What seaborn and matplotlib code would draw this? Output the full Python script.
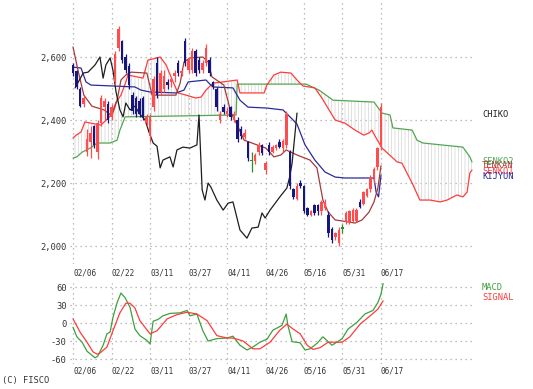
import numpy as np
import matplotlib
matplotlib.use("Agg")
import matplotlib.pyplot as plt
import seaborn as sns

# x positions are trading-day indices: 0 = 02/06 ... 88 = 06/17, cloud runs 26 days ahead
date_ticks = [0, 11, 22, 33, 44, 55, 66, 77, 88]
date_labels = ["02/06", "02/22", "03/11", "03/27", "04/11", "04/26", "05/16", "05/31", "06/17"]

opens = [2575, 2555, 2500, 2450, 2300, 2330, 2380, 2300, 2390, 2440,
         2450, 2410, 2520, 2630, 2650, 2600, 2570, 2480, 2470, 2460,
         2470, 2390, 2350, 2440, 2580, 2490, 2500, 2520, 2520, 2540,
         2580, 2550, 2650, 2560, 2560, 2620, 2590, 2560, 2580, 2590,
         2520, 2500, 2400, 2440, 2420, 2440, 2400, 2400, 2370, 2345,
         2330, 2270, 2270, 2300, 2320, 2240, 2320, 2300, 2310, 2330,
         2310, 2320, 2300, 2180, 2150, 2200, 2190, 2120, 2100, 2130,
         2130, 2110, 2120, 2100, 2055, 2030, 2010, 2055, 2075, 2075,
         2080, 2080, 2140, 2135, 2160, 2180, 2215, 2250, 2315]
highs = [2580, 2560, 2505, 2475, 2370, 2380, 2385, 2400, 2480, 2470,
         2460, 2450, 2620, 2700, 2655, 2610, 2580, 2490, 2475, 2470,
         2475, 2420, 2420, 2540, 2600, 2560, 2560, 2530, 2535, 2560,
         2590, 2560, 2660, 2600, 2630, 2625, 2600, 2590, 2640, 2600,
         2525, 2505, 2430, 2450, 2440, 2445, 2430, 2410, 2380, 2370,
         2335, 2300, 2295, 2330, 2325, 2270, 2330, 2320, 2325, 2340,
         2340, 2430, 2305, 2185, 2200, 2210, 2195, 2125, 2115, 2135,
         2135, 2145, 2150, 2110, 2060, 2045, 2060, 2070, 2110, 2115,
         2120, 2120, 2150, 2175, 2185, 2225, 2250, 2315, 2455]
lows = [2540, 2500, 2440, 2440, 2285, 2280, 2310, 2275, 2380, 2400,
        2390, 2400, 2510, 2620, 2580, 2550, 2500, 2420, 2410, 2410,
        2400, 2380, 2330, 2430, 2470, 2480, 2490, 2500, 2505, 2520,
        2540, 2540, 2570, 2550, 2550, 2540, 2550, 2550, 2570, 2540,
        2500, 2430, 2390, 2420, 2410, 2400, 2395, 2330, 2340, 2340,
        2270, 2235, 2260, 2290, 2290, 2230, 2290, 2295, 2305, 2310,
        2300, 2310, 2180, 2150, 2145, 2185, 2105, 2095, 2095, 2100,
        2100, 2100, 2115, 2030, 2010, 2020, 2000, 2040, 2070, 2070,
        2075, 2075, 2120, 2130, 2155, 2170, 2200, 2240, 2305]
closes = [2549, 2505, 2445, 2470, 2340, 2360, 2320, 2390, 2470, 2460,
          2400, 2440, 2610, 2690, 2590, 2560, 2510, 2430, 2420, 2420,
          2410, 2410, 2410, 2530, 2480, 2550, 2540, 2510, 2530, 2550,
          2550, 2555, 2580, 2590, 2620, 2550, 2560, 2580, 2630, 2550,
          2505, 2440, 2420, 2425, 2430, 2410, 2420, 2340, 2350, 2360,
          2280, 2270, 2290, 2320, 2295, 2265, 2300, 2315, 2320, 2315,
          2335, 2420, 2190, 2155, 2190, 2190, 2110, 2100, 2110, 2105,
          2110, 2140, 2140, 2040, 2020, 2040, 2050, 2055, 2105, 2110,
          2115, 2115, 2125, 2170, 2180, 2215, 2245, 2310, 2440]

tenkan_x = [0, 1.4, 3.1, 5.4, 8.9, 11.1, 12.6, 13.7, 15.1, 16.6, 21.1, 22.6, 24.3, 29.4,
            30.6, 31.7, 33.4, 37.1, 38.6, 39.7, 43.1, 45.1, 46.9, 48.9, 52.6, 55.1, 57.4,
            59.4, 60.9, 64, 67.7, 69.7, 71.4, 72.9, 74.9, 80.6, 82.6, 84.6, 86, 87.1, 88]
tenkan_y = [2632, 2559, 2479, 2444, 2432, 2413, 2463, 2527, 2543, 2552, 2549, 2479, 2479, 2479,
            2517, 2584, 2597, 2600, 2584, 2537, 2511, 2425, 2384, 2336, 2321, 2311, 2283,
            2289, 2305, 2289, 2273, 2248, 2146, 2108, 2083, 2073, 2083, 2108, 2140, 2184, 2255]

kijun_x = [0, 2.3, 3.7, 5.1, 17.7, 19.4, 22, 29.4, 31.7, 32.9, 38, 39.1, 40, 45.7, 47.7, 50,
           55.4, 60, 62.9, 64, 66.3, 69.1, 72, 74.9, 77.7, 86, 86.6, 87.3, 88]
kijun_y = [2568, 2565, 2521, 2511, 2505, 2495, 2489, 2486, 2495, 2521, 2527, 2514, 2505, 2502,
           2463, 2441, 2438, 2432, 2400, 2387, 2321, 2273, 2235, 2219, 2216, 2216, 2171, 2156,
           2225]

senkou1_x = [0, 0.9, 2.3, 3.4, 5.1, 8, 10, 10.9, 12.3, 13.7, 15.1, 15.7, 20, 21.4, 24.9, 26.6,
             28.6, 30, 32.3, 35.1, 36.6, 38, 40, 46.9, 47.7, 54.6, 55.4, 57.4, 59.4, 62.3, 64,
             65.7, 69.1, 71.1, 74.9, 77.7, 80.6, 83.1, 84.6, 85.4, 86.3, 88.3, 92.6, 94, 95.4,
             96.9, 99.1, 102, 104.9, 106.9, 109.7, 111.4, 112.6, 113.4, 114]
senkou1_y = [2343, 2352, 2362, 2394, 2390, 2384, 2406, 2416, 2457, 2479, 2521, 2543, 2533, 2590,
             2600, 2575, 2521, 2486, 2479, 2470, 2473, 2495, 2517, 2527, 2486, 2486, 2511, 2543,
             2552, 2549, 2527, 2508, 2502, 2470, 2400, 2390, 2368, 2352, 2359, 2368, 2349, 2311,
             2267, 2263, 2232, 2200, 2146, 2146, 2140, 2146, 2162, 2156, 2171, 2232, 2241]

senkou2_x = [0, 1.1, 2.6, 4.9, 6.9, 10.6, 12.6, 13.4, 14.9, 46.6, 46.9, 66.6, 70.3, 74.3, 86,
             88.3, 90.6, 91.4, 96.9, 98.3, 100, 111.4, 113.4, 114]
senkou2_y = [2279, 2283, 2298, 2311, 2327, 2327, 2336, 2368, 2410, 2416, 2514, 2514, 2495, 2463,
             2457, 2422, 2416, 2375, 2368, 2336, 2327, 2314, 2283, 2267]

chiko_x = [0.6, 2.9, 4.3, 6.3, 7.7, 8.6, 9.4, 10.6, 11.4, 12.3, 13.4, 14.3, 15.1, 16.3, 17.7,
           19.1, 20.6, 21.7, 22.9, 24, 24.9, 25.7, 27.7, 28.6, 29.7, 31.4, 33.4, 35.4, 36, 36.9,
           37.7, 38.6, 39.4, 41.1, 42.9, 44.3, 45.7, 46.3, 47.7, 49.7, 51.1, 52.9, 54, 54.9,
           56.3, 59.1, 61.1, 61.9, 62.6, 64]
chiko_y = [2502, 2549, 2552, 2575, 2600, 2533, 2575, 2597, 2559, 2489, 2432, 2410, 2454, 2432,
           2444, 2419, 2400, 2362, 2327, 2317, 2248, 2273, 2283, 2251, 2305, 2314, 2311, 2321,
           2416, 2178, 2146, 2200, 2187, 2146, 2114, 2136, 2140, 2114, 2051, 2025, 2057, 2060,
           2105, 2089, 2114, 2156, 2184, 2219, 2263, 2422]

macd_x = [0, 1.1, 2.6, 4, 6.3, 7.1, 8.6, 9.7, 10.6, 11.4, 12.6, 13.7, 14.9, 16.3, 17.7, 19.1,
          21.1, 22, 22.9, 24.3, 25.7, 27.7, 30.6, 32.6, 33.4, 35.4, 37.1, 38.6, 41.1, 44, 45.7,
          47.7, 49.7, 51.4, 53.4, 55.4, 57.1, 59.7, 60.9, 61.4, 62.6, 64.9, 66.3, 67.7, 69.7,
          71.4, 74, 75.4, 76.9, 78.6, 81.1, 83.4, 85.7, 87.1, 88, 88.6]
macd_y = [-7, -23, -32, -47, -58, -55, -37, -18, -15, 9, 34, 50, 42, 26, -10, -21,
          -29, -35, 3, 6, 12, 16, 17, 21, 12, 15, -13, -30, -26, -25, -22,
          -37, -45, -40, -32, -27, -12, -4, 15, -4, -31, -33, -45, -43, -34,
          -23, -37, -32, -26, -10, 1, 15, 21, 34, 48, 66]
signal_x = [0, 2, 4, 5.7, 6.9, 7.7, 9.7, 11.4, 13.4, 15.1, 16.3, 17.7, 19.1, 22, 24, 26.9,
            29.7, 32.6, 35.4, 38.3, 41.1, 44, 45.7, 48.6, 51.4, 53.4, 56.3, 59.1, 61.1, 62.9,
            64.9, 66.9, 68.6, 70.6, 72.9, 76.9, 79.1, 82, 84.9, 87.1, 88.6]
signal_y = [7, -15, -32, -48, -52, -50, -40, -13, 17, 33, 33, 25, 4, -18, -13, 7,
            14, 18, 15, 4, -21, -25, -25, -30, -43, -43, -32, -12, -2, -10,
            -18, -37, -44, -41, -32, -32, -23, -2, 12, 23, 37]

price_ticks = [2000, 2200, 2400, 2600]
macd_ticks = [60, 30, 0, -30, -60]

sns.set_style("white")
plt.rcParams["font.family"] = ["DejaVu Sans Mono"]
plt.rcParams["hatch.linewidth"] = 0.5

W, H = 533, 389
fig = plt.figure(figsize=(W / 100, H / 100), dpi=100)
ax = fig.add_axes([70 / W, 1 - 264 / H, 405 / W, 264 / H])
ax2 = fig.add_axes([70 / W, 1 - 364 / H, 405 / W, 81 / H])

grid_kw = dict(color="#a8a8a8", linestyle=(0, (1, 3)), linewidth=0.9)
txt = "#333333"

# cloud (hatched band between the two leading spans)
poly_x = senkou1_x + senkou2_x[::-1]
poly_y = senkou1_y + senkou2_y[::-1]
ax.fill(poly_x, poly_y, facecolor="none", edgecolor="#d2d2d2", hatch="|||||",
        linewidth=0, zorder=1)

lines = [(senkou2_x, senkou2_y, "#4fa84f"), (senkou1_x, senkou1_y, "#ff3b3b"),
         (kijun_x, kijun_y, "#2a2a9c"), (tenkan_x, tenkan_y, "#a43a3a"),
         (chiko_x, chiko_y, "#1e1e1e")]
for xs, ys, col in lines:
    sns.lineplot(x=xs, y=ys, ax=ax, color=col, linewidth=0.9, estimator=None,
                 sort=False, legend=False, zorder=3)

# candles
idx = np.arange(len(closes))
o, h, l, c = map(np.array, (opens, highs, lows, closes))
cols = np.where(c > o, "#ff4d4d", np.where(c < o, "#16167e", "#2e8b2e"))
ax.vlines(idx, l, h, colors=cols, linewidth=0.9, zorder=4)
body = np.where(np.abs(c - o) < 4, 4, c - o)
ax.bar(idx, body, bottom=o, width=0.8, color=cols, linewidth=0, zorder=5)

ax.set_xlim(-0.86, 114.86)
ax.set_ylim(1943, 2781)
ax.set_yticks(price_ticks)
ax.set_yticklabels([f"{v:,}" for v in price_ticks])
ax.set_xticks(date_ticks)
ax.set_xticklabels(date_labels)

sns.lineplot(x=macd_x, y=macd_y, ax=ax2, color="#3f9f3f", linewidth=0.9,
             estimator=None, sort=False, legend=False)
sns.lineplot(x=signal_x, y=signal_y, ax=ax2, color="#ff3b3b", linewidth=0.9,
             estimator=None, sort=False, legend=False)
ax2.set_xlim(-0.86, 114.86)
ax2.set_ylim(-68.3, 66.7)
ax2.set_yticks(macd_ticks)
ax2.set_yticklabels([str(v) for v in macd_ticks])
ax2.set_xticks(date_ticks)
ax2.set_xticklabels(date_labels)

for a, pad in ((ax, 3.0), (ax2, 1.5)):
    a.grid(True, **grid_kw)
    a.set_axisbelow(True)
    for s in a.spines.values():
        s.set_visible(False)
    a.tick_params(length=0, labelsize=6.3, labelcolor=txt)
    a.tick_params(axis="x", pad=pad, labelsize=5.6)
    a.tick_params(axis="y", pad=2.5)
    for t in a.get_xticklabels():
        t.set_ha("left")
    a.set_xlabel("")
    a.set_ylabel("")

# right-hand series names sit at the end values, overlapping as in the source
labels = [("CHIKO", 115, "#1e1e1e"), ("SENKO2", 162, "#4fa84f"), ("TENKAN", 166, "#a43a3a"),
          ("SENKO1", 171, "#ff3b3b"), ("KIJYUN", 177, "#2a2a9c"),
          ("MACD", 287, "#3f9f3f"), ("SIGNAL", 297, "#ff3b3b")]
for name, ypx, col in labels:
    fig.text(482 / W, 1 - ypx / H, name, color=col, fontsize=6.3, va="center", ha="left")

fig.text(2 / W, 1 - 380 / H, "(C) FISCO", color=txt, fontsize=6.3, va="center", ha="left")

fig.savefig("out.png", dpi=100)
